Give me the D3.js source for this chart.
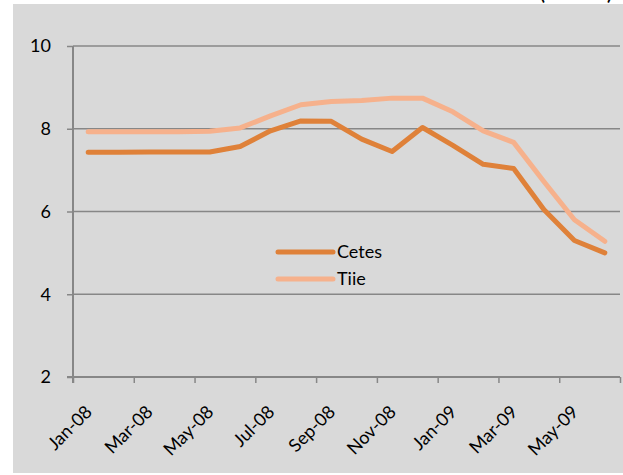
<!DOCTYPE html>
<html>
<head>
<meta charset="utf-8">
<script src="https://cdn.jsdelivr.net/npm/d3@7"></script>
<style>
  body { margin: 0; background: #fff; }
  text { font-family: Lato, "Open Sans", sans-serif; fill: #000; }
</style>
</head>
<body>
<div id="chart"></div>
<script>
// months Jan-08 .. Jun-09
var months = ["Jan-08", "Feb-08", "Mar-08", "Apr-08", "May-08", "Jun-08", "Jul-08", "Aug-08", "Sep-08",
              "Oct-08", "Nov-08", "Dec-08", "Jan-09", "Feb-09", "Mar-09", "Apr-09", "May-09", "Jun-09"]
var cetes = [7.43, 7.43, 7.44, 7.44, 7.44, 7.57, 7.95, 8.19, 8.18, 7.75, 7.45, 8.03, 7.60, 7.14, 7.04, 6.04, 5.30, 5.00]
var tiie = [7.93, 7.93, 7.93, 7.93, 7.94, 8.02, 8.31, 8.58, 8.66, 8.68, 8.74, 8.74, 8.41, 7.95, 7.67, 6.72, 5.80, 5.28]
var yTicks = [2, 4, 6, 8, 10]
var seriesNames = ["Cetes", "Tiie"]
var colors = ["#df8139", "#f6b18c"]

function create_vis() {
    var svg = d3.select("#chart").append("svg").attr("width", 623).attr("height", 475)
    svg.append("rect").attr("x", 13).attr("y", 4).attr("width", 610).attr("height", 469).attr("fill", "#d9d9d9")
    // cut-off title at the top
    svg.append("text").attr("x", 612).attr("y", 0).attr("text-anchor", "end")
        .style("font-size", "18px").style("font-weight", "bold").text("(% anual)")
    return svg
}

function draw_chart(svg) {
    var left = 73, right = 620, top = 46, bottom = 377

    var x = d3.scaleBand().domain(months).range([left, right]).padding(0)
    var xi = d3.scaleLinear().domain([0, months.length]).range([left, right])
    var y = d3.scaleLinear().domain([2, 10]).range([bottom, top])

    // gridlines
    svg.append("g").selectAll("line")
        .data(yTicks.filter((d) => d > 2))
        .enter().append("line")
        .attr("x1", left).attr("x2", right)
        .attr("y1", (d) => y(d)).attr("y2", (d) => y(d))
        .attr("stroke", "#878787").attr("stroke-width", 1.5)

    // y axis
    var yAxis = svg.append("g").attr("transform", "translate(" + left + ",0)")
        .call(d3.axisLeft(y).tickValues(yTicks).tickSize(6).tickPadding(16).tickFormat(d3.format("d")))
    yAxis.select(".domain").remove()
    yAxis.selectAll(".tick line").attr("stroke", "#878787").attr("stroke-width", 1.5)
    yAxis.append("line").attr("x1", 0).attr("x2", 0).attr("y1", top).attr("y2", bottom + 6)
        .attr("stroke", "#878787").attr("stroke-width", 2)
    yAxis.selectAll("text").style("font-size", "18px").style("font-family", "Lato").attr("fill", "#000")

    // x axis with ticks between categories
    var tickIdx = d3.range(0, months.length + 1, 2)
    var xAxis = svg.append("g").attr("transform", "translate(0," + bottom + ")")
        .call(d3.axisBottom(xi).tickValues(tickIdx).tickSize(6).tickFormat(""))
    xAxis.select(".domain").remove()
    xAxis.selectAll(".tick line").attr("stroke", "#878787").attr("stroke-width", 1.5)
    xAxis.append("line").attr("x1", left - 6).attr("x2", right).attr("y1", 0).attr("y2", 0)
        .attr("stroke", "#878787").attr("stroke-width", 2)

    svg.append("g").selectAll("text")
        .data(months.filter((d, i) => i % 2 == 0))
        .enter().append("text")
        .attr("transform", (d) => "translate(" + (x(d) + x.bandwidth() / 2 + 5) + "," + (bottom + 36) + ") rotate(-45)")
        .attr("text-anchor", "end")
        .style("font-size", "18px")
        .text((d) => d)

    // lines
    var line = d3.line()
        .x((d, i) => x(months[i]) + x.bandwidth() / 2)
        .y((d) => y(d))

    var series = [cetes, tiie]
    // Tiie drawn first so Cetes sits on top
    ;[1, 0].forEach((k) => {
        svg.append("path").datum(series[k])
            .attr("d", line)
            .attr("fill", "none")
            .attr("stroke", colors[k])
            .attr("stroke-width", 5)
            .attr("stroke-linejoin", "round")
            .attr("stroke-linecap", "round")
    })

    // legend
    var legend = svg.append("g").selectAll("g")
        .data(seriesNames)
        .enter().append("g")
        .attr("transform", (d, i) => "translate(278," + (252 + i * 27) + ")")
    legend.append("line").attr("x1", 0).attr("x2", 55)
        .attr("stroke", (d, i) => colors[i]).attr("stroke-width", 5).attr("stroke-linecap", "round")
    legend.append("text").attr("x", 59).attr("dy", "0.35em").style("font-size", "18px").text((d) => d)
}

draw_chart(create_vis())
</script>
</body>
</html>
